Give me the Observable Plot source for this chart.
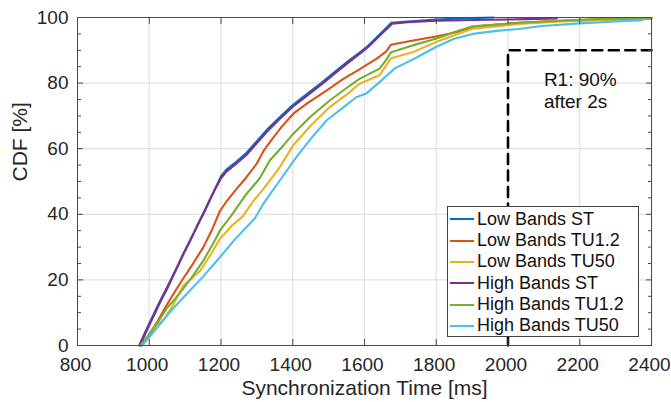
<!DOCTYPE html>
<html>
<head>
<meta charset="utf-8">
<script src="https://cdn.jsdelivr.net/npm/d3@7"></script>
<script src="https://cdn.jsdelivr.net/npm/@observablehq/plot@0.6"></script>
<style>
  html, body { margin: 0; padding: 0; background: #fff; }
  #wrap { position: relative; width: 671px; height: 402px; font-family: "Liberation Sans", Arial, Helvetica, sans-serif; }
  #legend { position: absolute; left: 447px; top: 206px; width: 192px; height: 131px; border: 1px solid #404040; background: #fff; box-sizing: border-box; padding-top: 1.5px; }
  .row { height: 21.35px; display: flex; align-items: center; font-size: 18px; color: #111; white-space: nowrap; }
  .sw { width: 24px; height: 2px; margin-left: 2px; margin-right: 3px; flex: none; }
</style>
</head>
<body>
<div id="wrap"></div>
<script>
// ---- data ----
const seriesNames = ["Low Bands ST", "Low Bands TU1.2", "Low Bands TU50", "High Bands ST", "High Bands TU1.2", "High Bands TU50"];
const seriesColors = ["#0072BD", "#D95319", "#EDB120", "#7E2F8E", "#77AC30", "#4DBEEE"];

const lowSTx = [975, 990, 1005, 1020, 1035, 1050, 1065, 1080, 1095, 1110, 1125, 1140, 1155, 1170, 1185, 1200, 1215, 1240, 1270, 1300, 1330, 1360, 1400, 1440, 1480, 1520, 1560, 1590, 1610, 1640, 1675, 1720, 1800, 1900, 1960];
const lowSTy = [0, 3.8, 7.3, 10.7, 14.2, 17.3, 20.8, 24.3, 27.8, 31.0, 34.4, 37.8, 41.0, 44.6, 48.0, 51.6, 53.6, 55.8, 58.6, 62.3, 66.0, 69.2, 73.3, 76.7, 80.1, 83.7, 87.2, 89.6, 91.4, 94.6, 98.4, 98.8, 99.4, 99.8, 100];

const lowTU12x = [978, 1000, 1020, 1040, 1065, 1091, 1120, 1151, 1175, 1197, 1216, 1240, 1271, 1300, 1320, 1345, 1370, 1401, 1440, 1494, 1540, 1586, 1633, 1660, 1674, 1720, 1799, 1855, 1910, 2030, 2150, 2300, 2400];
const lowTU12y = [0, 3.5, 6.8, 10.7, 15.3, 19.8, 24.6, 30.0, 35.3, 41.0, 44.0, 47.3, 51.3, 55.5, 59.6, 63.3, 66.8, 70.6, 73.8, 77.7, 81.2, 84.2, 87.4, 89.6, 91.7, 92.7, 94.2, 95.5, 97.3, 98.4, 99.0, 99.5, 99.8];

const lowTU50x = [978, 1000, 1012, 1040, 1063, 1095, 1120, 1142, 1170, 1197, 1230, 1260, 1290, 1315, 1336, 1364, 1401, 1450, 1503, 1550, 1586, 1642, 1674, 1734, 1799, 1850, 1901, 2030, 2150, 2300, 2400];
const lowTU50y = [0, 3.0, 5.6, 7.8, 11.7, 18.3, 20.6, 22.8, 27.5, 32.5, 36.5, 39.3, 44.0, 47.3, 50.3, 54.4, 61.0, 67.0, 72.7, 76.5, 79.8, 82.4, 87.6, 89.4, 92.5, 94.6, 96.6, 98.0, 98.8, 99.3, 99.6];

const highSTx = [972, 988, 1003, 1018, 1033, 1048, 1063, 1078, 1093, 1108, 1123, 1138, 1153, 1168, 1183, 1200, 1215, 1240, 1270, 1300, 1330, 1360, 1400, 1440, 1480, 1520, 1560, 1590, 1610, 1640, 1677, 1720, 1800, 1950, 2050, 2136];
const highSTy = [0, 3.9, 7.4, 10.8, 14.2, 17.4, 20.7, 24.0, 27.5, 30.8, 34.1, 37.5, 40.8, 44.3, 47.6, 51.0, 53.0, 55.2, 58.0, 61.7, 65.4, 68.7, 72.8, 76.2, 79.6, 83.2, 86.7, 89.2, 91.0, 94.2, 98.1, 98.6, 99.0, 99.3, 99.5, 99.7];

const highTU12x = [975, 1000, 1021, 1050, 1070, 1091, 1120, 1151, 1175, 1197, 1230, 1271, 1308, 1336, 1370, 1401, 1450, 1503, 1550, 1586, 1642, 1660, 1674, 1734, 1799, 1850, 1901, 2030, 2150, 2250, 2400];
const highTU12y = [0, 3.2, 6.6, 11.5, 14.0, 16.8, 21.0, 25.9, 30.5, 35.0, 39.8, 46.2, 51.0, 56.4, 60.5, 64.5, 69.8, 74.7, 78.5, 81.3, 84.4, 87.0, 89.4, 91.5, 93.5, 95.5, 97.3, 98.4, 99.1, 99.5, 99.7];

const highTU50x = [980, 1000, 1031, 1060, 1105, 1150, 1197, 1240, 1294, 1317, 1327, 1364, 1410, 1450, 1494, 1540, 1577, 1605, 1642, 1683, 1740, 1799, 1850, 1901, 1975, 2030, 2094, 2200, 2300, 2375];
const highTU50y = [0, 2.5, 6.6, 10.5, 15.8, 21.0, 26.9, 32.5, 38.7, 43.0, 44.6, 50.3, 57.4, 63.0, 68.6, 72.5, 75.7, 76.8, 80.3, 84.4, 87.5, 91.0, 93.5, 95.0, 96.0, 96.5, 97.4, 98.2, 98.8, 99.2];

const xTicks = [800, 1000, 1200, 1400, 1600, 1800, 2000, 2200, 2400];
const yTicks = [0, 20, 40, 60, 80, 100];
const yMinorTicks = [5, 10, 15, 25, 30, 35, 45, 50, 55, 65, 70, 75, 85, 90, 95];

// requirement R1: 90 % after 2 s
const reqX = [2000, 2000, 2400];
const reqY = [0, 90, 90];
const reqLabel = "R1: 90%\nafter 2s";
const reqLabelX = [2100];
const reqLabelY = [78];

const xLabel = "Synchronization Time [ms]";
const yLabel = "CDF [%]";

// ---- build table ----
const seriesX = [lowSTx, lowTU12x, lowTU50x, highSTx, highTU12x, highTU50x];
const seriesY = [lowSTy, lowTU12y, lowTU50y, highSTy, highTU12y, highTU50y];
const rows = [];
seriesNames.forEach((name, i) => {
  seriesX[i].forEach((x, j) => rows.push({series: name, ms: x, cdf: seriesY[i][j]}));
});
const reqRows = reqX.map((x, i) => ({ms: x, cdf: reqY[i]}));

const axisColor = "#4a4a4a";
const textColor = "#262626";
const noText = () => "";

const chart = Plot.plot({
  width: 671,
  height: 402,
  marginLeft: 77,
  marginRight: 20,
  marginTop: 17,
  marginBottom: 57,
  style: {fontFamily: '"Liberation Sans", Arial, Helvetica, sans-serif', fontSize: "19px", color: textColor, background: "white"},
  x: {domain: [800, 2400]},
  y: {domain: [0, 100]},
  color: {domain: seriesNames, range: seriesColors},
  marks: [
    Plot.gridX(xTicks, {stroke: "#e2e2e2", strokeOpacity: 1, strokeWidth: 1.2}),
    Plot.gridY(yTicks, {stroke: "#e2e2e2", strokeOpacity: 1, strokeWidth: 1.2}),
    Plot.line(rows, {x: "ms", y: "cdf", z: "series", stroke: "series", strokeWidth: 2.1}),
    Plot.line(reqRows, {x: "ms", y: "cdf", stroke: "black", strokeWidth: 2.6, strokeDasharray: "10,6.5"}),
    Plot.text([reqLabel], {x: reqLabelX, y: reqLabelY, text: d => d, textAnchor: "start", lineHeight: 1.15, fontSize: 19, fill: "#111"}),
    Plot.frame({stroke: axisColor, strokeWidth: 1}),
    // tick labels
    Plot.axisX(xTicks, {anchor: "bottom", tickSize: 0, tickPadding: 12, dx: -2, label: null, tickFormat: d => String(d), fontSize: 19, fill: textColor}),
    Plot.axisY(yTicks, {anchor: "left", tickSize: 0, tickPadding: 9, label: null, tickFormat: d => String(d), fontSize: 19, fill: textColor}),
    // inward ticks (outward ticks shifted inside the frame)
    Plot.axisX(xTicks, {anchor: "bottom", tickSize: 6, dy: -6, tickFormat: noText, label: null, stroke: axisColor}),
    Plot.axisX(xTicks, {anchor: "top", tickSize: 6, dy: 6, tickFormat: noText, label: null, stroke: axisColor}),
    Plot.axisY(yTicks, {anchor: "left", tickSize: 6, dx: 6, tickFormat: noText, label: null, stroke: axisColor}),
    Plot.axisY(yTicks, {anchor: "right", tickSize: 6, dx: -6, tickFormat: noText, label: null, stroke: axisColor}),
    Plot.axisY(yMinorTicks, {anchor: "left", tickSize: 4, dx: 4, tickFormat: noText, label: null, stroke: axisColor}),
    Plot.axisY(yMinorTicks, {anchor: "right", tickSize: 4, dx: -4, tickFormat: noText, label: null, stroke: axisColor}),
    // axis titles
    Plot.text([xLabel], {frameAnchor: "bottom", dy: 43, lineAnchor: "middle", text: d => d, fontSize: 21, fill: textColor}),
    Plot.text([yLabel], {frameAnchor: "left", dx: -57, rotate: -90, lineAnchor: "middle", text: d => d, fontSize: 21, fill: textColor})
  ]
});

const wrap = document.getElementById("wrap");
wrap.appendChild(chart);

// legend (HTML, drawn from the series arrays)
const legend = document.createElement("div");
legend.id = "legend";
seriesNames.forEach((name, i) => {
  const row = document.createElement("div");
  row.className = "row";
  const sw = document.createElement("span");
  sw.className = "sw";
  sw.style.background = seriesColors[i];
  const tx = document.createElement("span");
  tx.textContent = name;
  row.appendChild(sw);
  row.appendChild(tx);
  legend.appendChild(row);
});
wrap.appendChild(legend);
</script>
</body>
</html>
